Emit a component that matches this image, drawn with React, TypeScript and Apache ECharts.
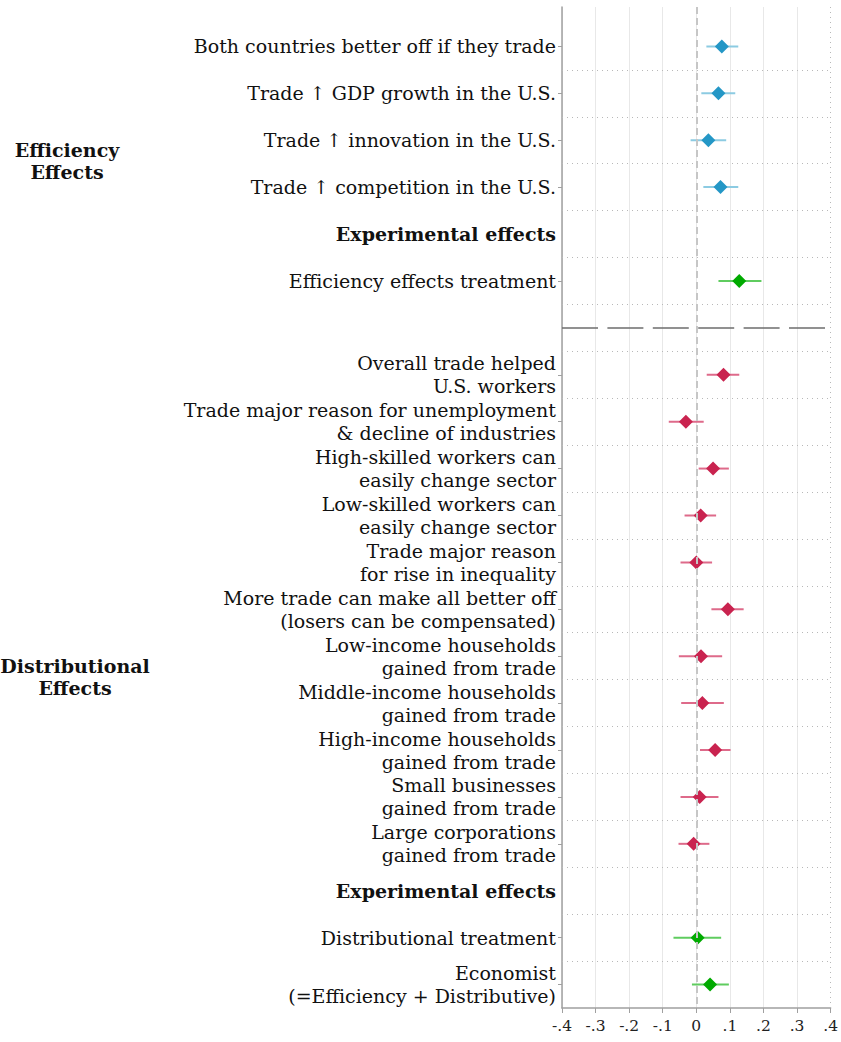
import React, { useEffect, useRef } from "react";
import * as echarts from "echarts";

// Row labels, top to bottom (row index = position on y axis)
const rowLabels: string[] = [
  "Both countries better off if they trade",
  "Trade ↑ GDP growth in the U.S.",
  "Trade ↑ innovation in the U.S.",
  "Trade ↑ competition in the U.S.",
  "Experimental effects",
  "Efficiency effects treatment",
  "",
  "Overall trade helped\nU.S. workers",
  "Trade major reason for unemployment\n& decline of industries",
  "High-skilled workers can\neasily change sector",
  "Low-skilled workers can\neasily change sector",
  "Trade major reason\nfor rise in inequality",
  "More trade can make all better off\n(losers can be compensated)",
  "Low-income households\ngained from trade",
  "Middle-income households\ngained from trade",
  "High-income households\ngained from trade",
  "Small businesses\ngained from trade",
  "Large corporations\ngained from trade",
  "Experimental effects",
  "Distributional treatment",
  "Economist\n(=Efficiency + Distributive)",
];
const headerRows: number[] = [4, 18];
const separatorRow = 6;
const labelRows: number[] = [0, 1, 2, 3, 4, 5, 7, 8, 9, 10, 11, 12, 13, 14, 15, 16, 17, 18, 19, 20];
const tickRows: number[] = [0, 1, 2, 3, 5, 7, 8, 9, 10, 11, 12, 13, 14, 15, 16, 17, 19, 20];

// Efficiency effects (blue)
const effRows: number[] = [0, 1, 2, 3];
const effEst: number[] = [0.076, 0.066, 0.036, 0.072];
const effLo: number[] = [0.03, 0.015, -0.017, 0.021];
const effHi: number[] = [0.125, 0.116, 0.089, 0.125];

// Distributional effects (red)
const distRows: number[] = [7, 8, 9, 10, 11, 12, 13, 14, 15, 16, 17];
const distEst: number[] = [0.081, -0.031, 0.05, 0.013, 0.0, 0.094, 0.014, 0.018, 0.056, 0.01, -0.008];
const distLo: number[] = [0.031, -0.082, 0.007, -0.035, -0.047, 0.045, -0.052, -0.045, 0.011, -0.047, -0.053];
const distHi: number[] = [0.128, 0.022, 0.097, 0.059, 0.047, 0.141, 0.077, 0.082, 0.102, 0.066, 0.039];

// Experimental treatments (green)
const treatRows: number[] = [5, 19, 20];
const treatEst: number[] = [0.128, 0.004, 0.041];
const treatLo: number[] = [0.066, -0.068, -0.013];
const treatHi: number[] = [0.194, 0.074, 0.097];

// Horizontal dotted separators between rows
const rowGridLines: number[] = [0.5, 1.5, 2.5, 3.5, 4.5, 5.5, 6.5, 7.5, 8.5, 9.5, 10.5, 11.5, 12.5, 13.5, 14.5, 15.5, 16.5, 17.5, 18.5, 19.5];

const X_MIN = -0.4;
const X_MAX = 0.4;
const Y_MIN = -0.84;
const Y_MAX = 20.5;

const xTickFmt = (v: number) => {
  if (Math.abs(v) < 1e-9) return "0";
  const s = (Math.round(v * 10) / 10).toString();
  return s.replace("0.", ".");
};

const FONT = "DejaVu Serif, Liberation Serif, DejaVu Sans, serif";
const LABEL_SIZE = 19;

function ciSeries(rows: number[], lo: number[], hi: number[], color: string) {
  return {
    type: "custom",
    z: 3,
    silent: true,
    data: rows.map((r, i) => [lo[i], hi[i], r]),
    renderItem: (_p: any, api: any) => {
      const a = api.coord([api.value(0), api.value(2)]);
      const b = api.coord([api.value(1), api.value(2)]);
      return {
        type: "line",
        shape: { x1: a[0], y1: a[1], x2: b[0], y2: b[1] },
        style: { stroke: color, lineWidth: 2 },
      };
    },
  };
}

function pointSeries(rows: number[], est: number[], color: string) {
  return {
    type: "scatter",
    z: 4,
    symbol: "diamond",
    symbolSize: 14,
    itemStyle: { color, opacity: 1 },
    data: rows.map((r, i) => [est[i], r]),
  };
}

const vline = (x: number, lineStyle: any) => [
  { coord: [x, Y_MIN], lineStyle },
  { coord: [x, Y_MAX] },
];
const hline = (y: number, lineStyle: any) => [
  { coord: [X_MIN, y], lineStyle },
  { coord: [X_MAX, y] },
];

export default function App() {
  const ref = useRef<HTMLDivElement>(null);
  useEffect(() => {
    if (!ref.current) return;
    const chart = echarts.init(ref.current, undefined, { renderer: "svg" });
    const option: any = {
      animation: false,
      grid: { left: 562, right: 9, top: 7, bottom: 34, containLabel: false },
      xAxis: {
        type: "value",
        min: X_MIN,
        max: X_MAX,
        interval: 0.1,
        axisLine: { show: true, onZero: false, lineStyle: { color: "#a0a0a0", width: 1.5 } },
        axisTick: { show: true, length: 5, lineStyle: { color: "#a0a0a0" } },
        axisLabel: { formatter: xTickFmt, fontFamily: FONT, fontSize: 15.5, color: "#222", margin: 10 },
        splitLine: { show: true, showMaxLine: false, lineStyle: { color: "#e8e8e8", width: 1 } },
      },
      yAxis: {
        type: "value",
        inverse: true,
        min: Y_MIN,
        max: Y_MAX,
        axisLine: { show: true, onZero: false, lineStyle: { color: "#a0a0a0", width: 1.5 } },
        axisTick: { show: true, length: 4, customValues: tickRows, lineStyle: { color: "#a0a0a0" } },
        splitLine: { show: false },
        axisLabel: {
          customValues: labelRows,
          margin: 6,
          fontFamily: FONT,
          fontSize: LABEL_SIZE,
          lineHeight: 23,
          color: "#111",
          align: "right",
          formatter: (v: number) => {
            const i = Math.round(v);
            const t = rowLabels[i] || "";
            if (headerRows.indexOf(i) >= 0) return "{b|" + t + "}";
            return t;
          },
          rich: {
            b: { fontFamily: FONT, fontSize: LABEL_SIZE, fontWeight: "bold", color: "#111", lineHeight: 23 },
          },
        },
      },
      series: [
        {
          type: "scatter",
          data: [],
          silent: true,
          markLine: {
            silent: true,
            symbol: "none",
            label: { show: false },
            data: [
              ...rowGridLines.map((y) => hline(y, { color: "#b8b8b8", type: [1, 4], width: 1 })),
              vline(X_MAX, { color: "#b8b8b8", type: [1, 4], width: 1 }),
              vline(0, { color: "#c6c6c6", type: [7, 4], width: 2 }),
              hline(separatorRow, { color: "#6e6e6e", type: [36, 9.4], width: 1.5 }),
            ],
          },
        },
        ciSeries(effRows, effLo, effHi, "#8ccbe2"),
        ciSeries(distRows, distLo, distHi, "#de6a8a"),
        ciSeries(treatRows, treatLo, treatHi, "#5fcc5f"),
        pointSeries(effRows, effEst, "#2497c6"),
        pointSeries(distRows, distEst, "#c9234f"),
        pointSeries(treatRows, treatEst, "#00aa00"),
      ],
    };
    chart.setOption(option);
    const yEff = chart.convertToPixel({ yAxisIndex: 0 }, 2.5) as number;
    const yDist = chart.convertToPixel({ yAxisIndex: 0 }, 13.5) as number;
    const groupText = (text: string, x: number, y: number) => ({
      type: "text",
      x,
      y: y - 3,
      style: {
        text,
        fontFamily: FONT,
        fontSize: 19,
        fontWeight: "bold",
        textAlign: "center",
        textVerticalAlign: "middle",
        lineHeight: 22,
        fill: "#111",
      },
    });
    chart.setOption({
      graphic: [
        groupText("Efficiency\nEffects", 67, yEff),
        groupText("Distributional\nEffects", 75, yDist),
      ],
    });
    return () => chart.dispose();
  }, []);
  return (
    <div
      ref={ref}
      style={{ position: "absolute", left: 0, top: 0, width: 841, height: 1042, background: "#fff" }}
    />
  );
}
